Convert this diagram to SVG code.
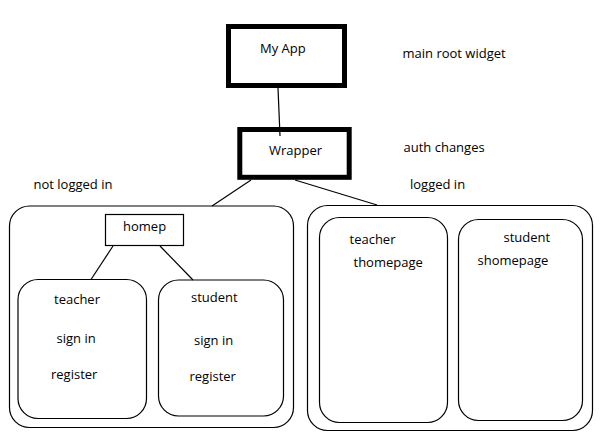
<svg xmlns="http://www.w3.org/2000/svg" width="600" height="446" viewBox="0 0 600 446">
<style>
text{font-family:"Open Sans","Liberation Sans",sans-serif;font-size:13px;fill:#000}
.thick{fill:#fff;stroke:#000;stroke-width:5}
.thin{fill:none;stroke:#000;stroke-width:1.2}
.line{stroke:#000;stroke-width:1.2;fill:none}
</style>
<rect width="600" height="446" fill="#fff"/>
<g id="myapp">
<rect class="thick" x="228.5" y="26.5" width="116" height="59"/>
<text x="260" y="53">My App</text>
</g>
<g id="label-main"><text x="402.5" y="57.5">main root widget</text></g>
<g id="wrapper">
<rect class="thick" x="239.8" y="129.5" width="109.4" height="47.8"/>
<text x="269" y="155">Wrapper</text>
</g>
<g id="label-auth"><text x="403.5" y="152">auth changes</text></g>
<g id="label-notlogged"><text x="33.5" y="188.5">not logged in</text></g>
<g id="label-logged"><text x="410" y="188.5">logged in</text></g>
<g id="notlogged-container">
<rect class="thin" x="9.5" y="206" width="284" height="221.5" rx="20"/>
</g>
<g id="homep">
<rect fill="#fff" stroke="#000" stroke-width="1.2" x="105.5" y="214.5" width="78" height="31"/>
<text x="123" y="231">homep</text>
</g>
<g id="teacher-auth">
<rect class="thin" x="18" y="279.5" width="128.5" height="139" rx="20"/>
<text x="54" y="304">teacher</text>
<text x="56.5" y="342.5">sign in</text>
<text x="51" y="379">register</text>
</g>
<g id="student-auth">
<rect class="thin" x="158.5" y="280" width="125" height="136" rx="20"/>
<text x="191" y="302">student</text>
<text x="194" y="345">sign in</text>
<text x="189.5" y="380.5">register</text>
</g>
<g id="logged-container">
<rect class="thin" x="307.5" y="205.5" width="285" height="225" rx="20"/>
</g>
<g id="thomepage">
<rect class="thin" x="319.5" y="217.5" width="128" height="205" rx="20"/>
<text x="349.5" y="243.5">teacher</text>
<text x="353.5" y="267">thomepage</text>
</g>
<g id="shomepage">
<rect class="thin" x="458.5" y="219.5" width="124" height="201" rx="20"/>
<text x="503.5" y="242">student</text>
<text x="477.5" y="264.5">shomepage</text>
</g>
<g id="connectors">
<line class="line" x1="278" y1="88" x2="280" y2="136"/>
<line class="line" x1="251" y1="180" x2="212" y2="206"/>
<line class="line" x1="295" y1="180" x2="377" y2="205"/>
<line class="line" x1="113" y1="246" x2="91" y2="279.5"/>
<line class="line" x1="160" y1="246" x2="193" y2="280"/>
</g>
</svg>
